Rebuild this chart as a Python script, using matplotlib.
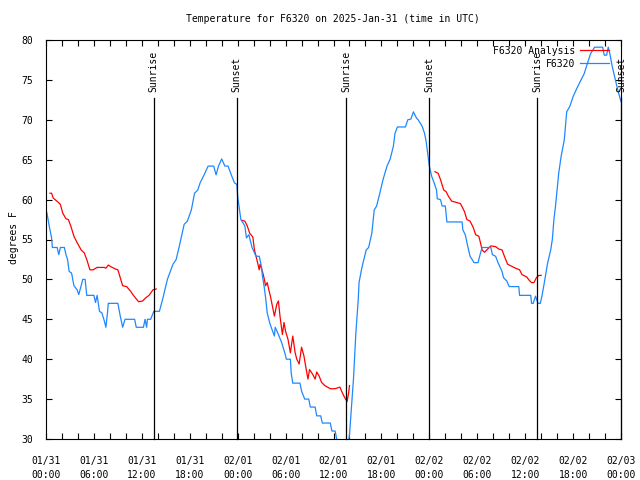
from datetime import datetime, timedelta

import matplotlib

matplotlib.use("Agg")
import matplotlib.dates as mdates
import matplotlib.pyplot as plt
import numpy as np

START = datetime(2025, 1, 31)
TITLE = "Temperature for F6320 on 2025-Jan-31 (time in UTC)"

# observed temperature (hours after start, degrees F)
obs_hours = [
    0.1, 0.4, 0.7, 0.8, 1.4, 1.6, 1.8, 2.3, 2.5, 2.7, 2.9, 3.2, 3.5, 3.9, 4.1, 4.4,
    4.6, 4.9, 5.1, 6.0, 6.2, 6.4, 6.7, 7.0, 7.3, 7.5, 7.7, 7.8, 9.0, 9.3, 9.6, 9.9,
    11.1, 11.3, 12.2, 12.4, 12.6, 12.7, 13.1, 13.5, 14.2, 14.6, 15.2, 15.9, 16.3,
    16.7, 17.3, 17.7, 18.2, 18.6, 19.0, 19.3, 19.8, 20.3, 21.0, 21.3, 21.6, 22.0,
    22.4, 22.8, 23.2, 23.6, 23.9, 24.0, 24.4, 24.9, 25.1, 25.4, 25.8, 26.3, 26.7,
    27.0, 27.1, 27.3, 27.5, 27.7, 28.0, 28.2, 28.6, 28.7, 29.1, 29.5, 29.9, 30.1,
    30.6, 30.7, 30.9, 31.8, 32.0, 32.4, 32.9, 33.1, 33.7, 33.9, 34.4, 34.6, 35.6,
    35.8, 36.2, 36.5, 36.9, 37.7, 38.0, 38.2, 38.5, 38.8, 39.1, 39.2, 39.5, 39.7,
    40.1, 40.4, 40.8, 41.1, 41.4, 41.8, 42.2, 42.7, 43.1, 43.5, 43.7, 44.0, 45.0,
    45.3, 45.7, 46.0, 46.4, 46.6, 47.1, 47.4, 47.6, 47.8, 48.0, 48.3, 48.6, 48.9,
    49.0, 49.4, 49.6, 50.0, 50.2, 52.1, 52.2, 52.5, 52.8, 53.1, 53.6, 54.1, 54.3,
    54.6, 55.7, 55.9, 56.3, 56.6, 57.1, 57.3, 57.7, 58.0, 59.2, 59.3, 60.7, 60.8,
    61.0, 61.3, 61.6, 61.9, 62.1, 62.4, 62.8, 63.2, 63.4, 63.6, 63.8, 64.0, 64.2,
    64.5, 64.9, 65.2, 65.6, 66.0, 66.5, 66.9, 67.4, 67.8, 68.2, 68.7, 69.7, 69.9,
    70.2, 70.4, 70.6, 70.9, 71.3, 71.6, 72.0,
]
obs_temp = [
    58.4, 56.7, 55.2, 54.0, 54.0, 53.1, 54.0, 54.0, 53.1, 52.5, 51.0, 50.8, 49.2, 48.7, 48.1, 49.2,
    50.0, 50.0, 48.0, 48.0, 47.1, 48.0, 46.0, 45.8, 44.8, 44.0, 45.8, 47.0, 47.0, 45.4, 44.0, 45.0,
    45.0, 44.0, 44.0, 45.0, 44.0, 45.0, 45.0, 46.0, 46.0, 47.5, 50.0, 51.9, 52.5,
    54.2, 56.9, 57.3, 58.7, 60.8, 61.2, 62.1, 63.1, 64.2, 64.2, 63.1, 64.2, 65.1,
    64.2, 64.2, 63.1, 62.1, 61.9, 60.4, 57.5, 56.7, 55.2, 55.6, 54.0, 52.9, 52.9,
    51.5, 50.4, 49.2, 47.7, 45.8, 44.6, 44.0, 42.9, 44.0, 43.1, 42.1, 40.8, 40.0,
    40.0, 38.3, 37.0, 37.0, 36.0, 35.0, 35.0, 34.0, 34.0, 32.9, 32.9, 32.0, 32.0,
    31.0, 31.0, 29.5, 28.5, 28.5, 30.5, 33.3, 37.5, 43.3, 47.5, 49.6, 51.2, 52.1,
    53.7, 54.0, 55.8, 58.7, 59.2, 60.8, 62.5, 64.2, 65.1, 66.7, 68.3, 69.1, 69.1,
    70.0, 70.1, 71.0, 70.2, 70.0, 69.2, 68.3, 67.3, 65.8, 64.2, 62.9, 62.1, 61.2,
    60.1, 60.0, 59.2, 59.2, 57.2, 57.2, 56.2, 55.6, 54.2, 52.9, 52.1, 52.1, 52.9,
    54.0, 54.0, 53.1, 52.9, 52.1, 51.0, 50.2, 49.8, 49.1, 49.1, 48.0, 48.0, 47.0,
    47.0, 47.9, 47.0, 47.0, 47.9, 49.6, 52.0, 53.7, 55.0, 57.5, 59.2, 61.2, 63.3,
    65.4, 67.5, 71.0, 71.7, 72.9, 74.0, 74.8, 75.8, 77.1, 78.3, 79.1, 79.1, 78.1,
    78.1, 79.1, 78.3, 76.7, 75.0, 73.7, 72.3,
]

# analysis temperature, three runs separated by gaps (nan)
ana_hours = [
    0.5, 0.7, 0.9, 1.6, 1.8, 2.1, 2.5, 2.8, 3.1, 3.5, 3.9, 4.4, 4.8, 5.1, 5.5, 5.9,
    6.4, 7.3, 7.5, 7.8, 8.1, 8.7, 9.0, 9.3, 9.6, 10.1, 10.6, 11.1, 11.6, 12.1, 12.5,
    12.9, 13.4, 13.8, np.nan,
    24.5, 24.9, 25.2, 25.5, 25.9, 26.1, 26.4, 26.7, 26.8, 27.1, 27.3, 27.5, 27.7,
    27.9, 28.1, 28.3, 28.6, 28.9, 29.1, 29.3, 29.6, 29.8, 30.0, 30.3, 30.6, 30.9,
    31.2, 31.4, 31.7, 32.0, 32.3, 32.5, 32.8, 33.0, 33.4, 33.7, 33.9, 34.2, 34.5,
    34.9, 35.6, 36.2, 36.8, 37.1, 37.4, 37.7, 37.9, 38.0, np.nan,
    48.7, 49.1, 49.4, 49.8, 50.1, 50.4, 50.8, 51.2, 51.9, 52.4, 52.7, 53.1, 53.5,
    53.8, 54.2, 54.4, 54.6, 54.9, 55.2, 55.7, 56.3, 56.7, 57.1, 57.4, 57.8, 58.2,
    58.8, 59.3, 59.6, 60.2, 60.5, 60.8, 61.1, 61.4, 61.7, 62.0,
]
ana_temp = [
    60.8, 60.8, 60.2, 59.6, 59.4, 58.3, 57.6, 57.5, 56.7, 55.4, 54.6, 53.7, 53.3, 52.5, 51.2, 51.2,
    51.5, 51.5, 51.4, 51.8, 51.6, 51.3, 51.2, 50.2, 49.2, 49.1, 48.5, 47.8, 47.2, 47.3, 47.7,
    48.0, 48.7, 48.8, np.nan,
    57.4, 57.3, 56.7, 55.8, 55.3, 53.7, 52.5, 51.2, 51.9, 51.0, 50.2, 49.2, 49.6,
    48.7, 47.9, 46.9, 45.4, 46.9, 47.3, 45.4, 43.1, 44.6, 43.5, 42.5, 40.8, 42.9,
    40.8, 40.0, 39.4, 41.5, 40.4, 39.2, 37.5, 38.7, 38.1, 37.5, 38.4, 37.9, 37.1,
    36.7, 36.3, 36.3, 36.5, 35.8, 35.2, 34.7, 35.8, 36.7, np.nan,
    63.5, 63.3, 62.5, 61.2, 61.0, 60.4, 59.8, 59.7, 59.5, 58.5, 57.5, 57.3, 56.5,
    55.6, 55.4, 54.6, 53.7, 53.4, 53.7, 54.2, 54.1, 53.8, 53.7, 52.9, 51.9, 51.7,
    51.4, 51.2, 50.6, 50.3, 49.9, 49.6, 49.6, 50.2, 50.5, 50.5,
]

sun_hours = [13.5, 23.9, 37.6, 48.0, 61.5, 72.0]
sun_labels = ["Sunrise", "Sunset", "Sunrise", "Sunset", "Sunrise", "Sunset"]

series_labels = ["F6320 Analysis", "F6320"]


def to_nums(hours):
    # nan hours stay nan so the line breaks there
    return [
        np.nan if np.isnan(h) else mdates.date2num(START + timedelta(hours=float(h)))
        for h in hours
    ]


def main():
    plt.rcParams["font.family"] = ["DejaVu Sans Mono"]
    plt.rcParams["font.size"] = 7

    fig = plt.figure(figsize=(6.4, 4.8), dpi=100)
    ax = fig.add_axes([46 / 640, 41 / 480, 575 / 640, 399 / 480])

    ax.plot(to_nums(ana_hours), ana_temp, color="#ff0000", lw=0.9, label=series_labels[0])
    ax.plot(to_nums(obs_hours), obs_temp, color="#1e88ff", lw=0.9, label=series_labels[1])

    for h, lab in zip(sun_hours, sun_labels):
        t = mdates.date2num(START + timedelta(hours=h))
        ax.plot([t, t], [30, 72.7], color="black", lw=0.9, clip_on=False)
        ax.text(t, 73.5, lab, rotation=90, ha="center", va="bottom", clip_on=False)

    ax.set_xlim(START, START + timedelta(hours=72))
    ax.set_ylim(30, 80)
    ax.set_yticks(range(30, 81, 5))
    ax.xaxis.set_major_locator(mdates.HourLocator(byhour=range(0, 24, 6)))
    ax.xaxis.set_minor_locator(mdates.HourLocator(byhour=range(0, 24, 2)))
    ax.xaxis.set_major_formatter(mdates.DateFormatter("%m/%d\n%H:%M"))

    ax.tick_params(axis="both", which="both", direction="in", top=True, right=True,
                   length=4, width=0.8, labelsize=7)
    ax.tick_params(axis="x", which="major", pad=12)
    ax.tick_params(axis="y", which="major", pad=9)
    for lab in ax.get_xticklabels():
        lab.set_linespacing(1.6)
    for s in ax.spines.values():
        s.set_linewidth(0.8)

    ax.legend(loc="upper right", bbox_to_anchor=(1 - 6 / 575, 1.0), markerfirst=False,
              frameon=False, handlelength=3.0, handletextpad=0.5, labelspacing=0.3,
              borderaxespad=0.2, fontsize=7)

    fig.text(333 / 640, 1 - 19 / 480, TITLE, ha="center", va="center")
    fig.text(14 / 640, 1 - 238 / 480, "degrees F", rotation=90, ha="center", va="center")

    fig.savefig("out.png", dpi=100)


if __name__ == "__main__":
    main()
